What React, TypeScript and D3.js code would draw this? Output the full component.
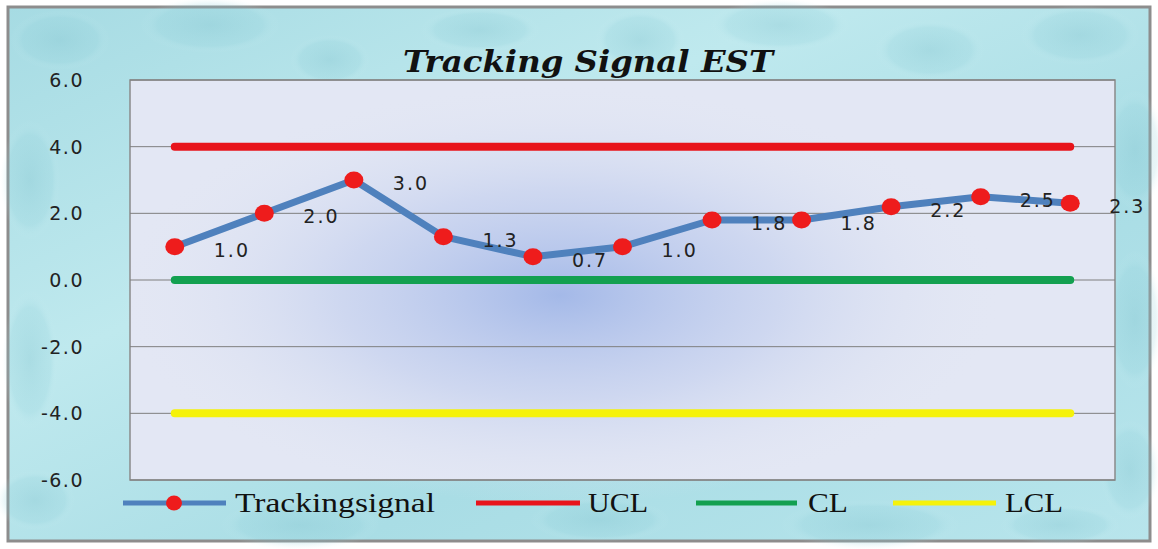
import React from 'react';
import * as d3 from 'd3';

const periods = ['1', '2', '3', '4', '5', '6', '7', '8', '9', '10', '11'];
const trackingSignal = [1.0, 2.0, 3.0, 1.3, 0.7, 1.0, 1.8, 1.8, 2.2, 2.5, 2.3];
const ucl = 4;
const cl = 0;
const lcl = -4;
const yTicks = [-6, -4, -2, 0, 2, 4, 6];

const W = 1158, H = 549;
const plot = { left: 130, right: 1115, top: 80, bottom: 480 };

const legendItems = [
  { name: 'Trackingsignal', color: '#4f81bd', marker: true, x0: 123, x1: 226, tx: 235, tw: 200 },
  { name: 'UCL', color: '#e8141b', marker: false, x0: 476, x1: 580, tx: 588, tw: 60 },
  { name: 'CL', color: '#13a050', marker: false, x0: 696, x1: 797, tx: 808, tw: 40 },
  { name: 'LCL', color: '#f5f20a', marker: false, x0: 893, x1: 996, tx: 1005, tw: 58 },
];

// a few faint "droplets" for the watery backdrop
const drops = [
  [60, 40, 50, 30], [210, 25, 70, 28], [330, 60, 40, 25], [480, 30, 60, 22], [640, 40, 45, 30],
  [780, 25, 70, 26], [930, 50, 55, 30], [1080, 35, 60, 30], [1135, 150, 30, 60], [1135, 320, 28, 70],
  [1130, 470, 30, 50], [30, 180, 30, 60], [30, 360, 28, 70], [35, 500, 40, 30], [300, 525, 80, 25],
  [600, 520, 70, 22], [870, 525, 90, 25], [1060, 525, 60, 20],
];

const App = () => {
  const x = d3.scalePoint<string>().domain(periods).range([plot.left, plot.right]).padding(0.5);
  const y = d3.scaleLinear().domain([-6, 6]).range([plot.bottom, plot.top]);
  const fmt = (v: number) => d3.format('.1f')(v).replace('−', '-');

  const line = d3.line<number>()
    .x((_, i) => x(periods[i])!)
    .y((d) => y(d));

  const xFirst = x(periods[0])!;
  const xLast = x(periods[periods.length - 1])!;
  const limits = [
    { v: ucl, color: '#e8141b' },
    { v: cl, color: '#13a050' },
    { v: lcl, color: '#f5f20a' },
  ];

  return (
    <svg width={W} height={H} style={{ position: 'absolute', left: 0, top: 0 }}>
      <defs>
        <linearGradient id="water" x1="0" y1="0" x2="1" y2="1">
          <stop offset="0%" stopColor="#a6dbe3" />
          <stop offset="35%" stopColor="#bfe9ee" />
          <stop offset="65%" stopColor="#a9dde5" />
          <stop offset="100%" stopColor="#b8e5ec" />
        </linearGradient>
        <radialGradient id="drop" cx="50%" cy="50%" r="50%">
          <stop offset="0%" stopColor="#84c5d0" stopOpacity={0.35} />
          <stop offset="75%" stopColor="#8fcfd9" stopOpacity={0.2} />
          <stop offset="100%" stopColor="#d9f5f7" stopOpacity={0} />
        </radialGradient>
        <radialGradient id="plotGlow" cx="50%" cy="50%" r="50%">
          <stop offset="0%" stopColor="#a4b9e8" />
          <stop offset="50%" stopColor="#c3cfee" stopOpacity={0.65} />
          <stop offset="100%" stopColor="#e2e6f3" stopOpacity={0} />
        </radialGradient>
      </defs>

      <rect x={8} y={7} width={1142} height={534} fill="url(#water)" stroke="#8d8d8d" strokeWidth={3} />
      {drops.map(([cx, cy, rx, ry], i) => (
        <ellipse key={i} cx={cx} cy={cy} rx={rx} ry={ry} fill="url(#drop)" />
      ))}

      <rect x={plot.left} y={plot.top} width={plot.right - plot.left} height={plot.bottom - plot.top} fill="#e3e7f4" />
      <ellipse cx={560} cy={295} rx={440} ry={210} fill="url(#plotGlow)" />
      <rect x={plot.left} y={plot.top} width={plot.right - plot.left} height={plot.bottom - plot.top} fill="none" stroke="#8a8a8a" strokeWidth={1.5} />

      {yTicks.map((t) => (
        <g key={t}>
          <line x1={plot.left} x2={plot.right} y1={y(t)} y2={y(t)} stroke="#7f7f7f" strokeWidth={1} />
          <text x={84} y={y(t) + 7} textAnchor="end" fontFamily="DejaVu Sans" fontSize={19} letterSpacing={1.5} fill="#222">{fmt(t)}</text>
        </g>
      ))}

      {limits.map((l) => (
        <line key={l.v} x1={xFirst} x2={xLast} y1={y(l.v)} y2={y(l.v)} stroke={l.color} strokeWidth={8} strokeLinecap="round" />
      ))}

      <path d={line(trackingSignal)!} fill="none" stroke="#4f81bd" strokeWidth={7} strokeLinejoin="round" />
      {trackingSignal.map((v, i) => (
        <ellipse key={i} cx={x(periods[i])} cy={y(v)} rx={9.5} ry={8.5} fill="#ee1c1c" />
      ))}
      {trackingSignal.map((v, i) => (
        <text key={'l' + i} x={x(periods[i])! + 39} y={y(v) + 10} fontFamily="DejaVu Sans" fontSize={19} letterSpacing={2} fill="#222">{fmt(v)}</text>
      ))}

      <text x={403} y={72} textLength={370} lengthAdjust="spacingAndGlyphs" fontFamily="DejaVu Serif" fontStyle="italic" fontWeight="bold" fontSize={30} fill="#111">
        Tracking Signal EST
      </text>

      {legendItems.map((it) => (
        <g key={it.name}>
          <line x1={it.x0} x2={it.x1} y1={503} y2={503} stroke={it.color} strokeWidth={5} />
          {it.marker && <ellipse cx={174} cy={503} rx={8} ry={7.5} fill="#ee1c1c" />}
          <text x={it.tx} y={512} textLength={it.tw} lengthAdjust="spacingAndGlyphs" fontFamily="Liberation Serif" fontSize={27} fill="#111">{it.name}</text>
        </g>
      ))}
    </svg>
  );
};

export default App;
